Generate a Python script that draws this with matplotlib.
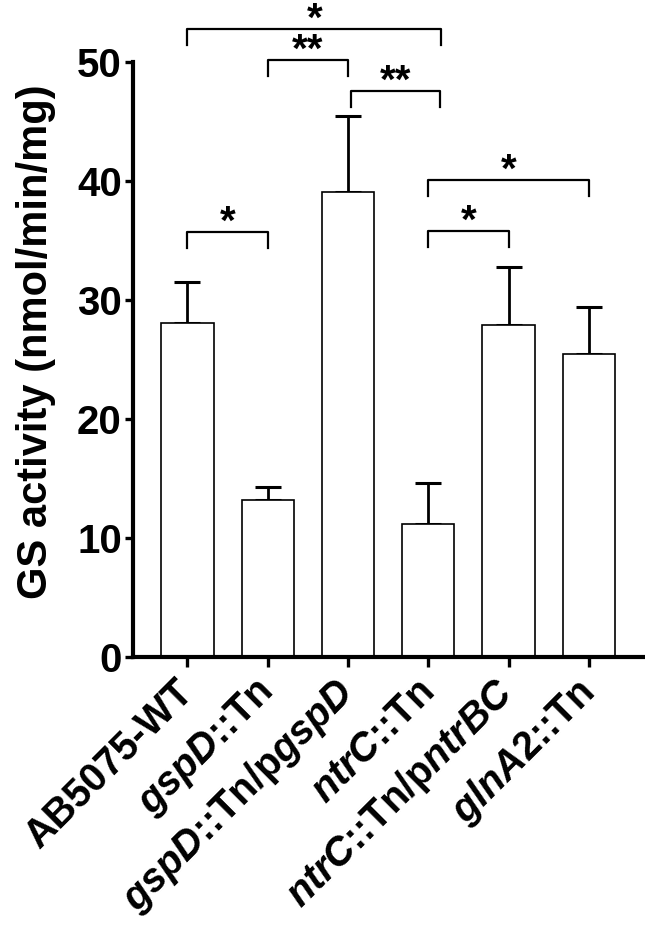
import numpy as np
import matplotlib
matplotlib.use("Agg")
import matplotlib.pyplot as plt

# podatki
skupine = ["AB5075-WT", r"$\mathit{gspD}$::Tn", r"$\mathit{gspD}$::Tn/p$\mathit{gspD}$",
           r"$\mathit{ntrC}$::Tn", r"$\mathit{ntrC}$::Tn/p$\mathit{ntrBC}$", r"$\mathit{glnA2}$::Tn"]
aktivnost = [28.1, 13.2, 39.1, 11.2, 27.9, 25.5]
napaka = [3.4, 1.1, 6.4, 3.4, 4.9, 3.9]

# oznake statisticne znacilnosti
pari_x1 = [0, 0, 1, 2.04, 3, 3]
pari_x2 = [1, 3.16, 2, 3.15, 4, 5]
pari_y = [35.7, 52.8, 50.2, 47.6, 35.8, 40.1]
pari_txt = ["*", "*", "**", "**", "*", "*"]

plt.rcParams['font.family'] = ['Liberation Sans', 'DejaVu Sans']
plt.rcParams['font.weight'] = 'bold'
plt.rcParams['mathtext.fontset'] = 'custom'
plt.rcParams['mathtext.rm'] = 'Liberation Sans:bold'
plt.rcParams['mathtext.it'] = 'Liberation Sans:italic:bold'
plt.rcParams['mathtext.bf'] = 'Liberation Sans:bold'

fig = plt.figure(figsize=(6.45, 9.27), dpi=100)
ax = fig.add_axes([0.206, 0.291, 0.794, 0.642])

x = np.arange(len(skupine))
ax.bar(x, aktivnost, width=0.65, color="white", edgecolor="black", linewidth=1.2, zorder=2)
ax.errorbar(x, aktivnost, yerr=[np.zeros(len(x)), napaka], fmt="none", ecolor="black",
            elinewidth=2, capsize=9.4, capthick=2.2, zorder=1)

ax.set_xlim(-0.68, 5.70)
ax.set_ylim(0, 50)
ax.set_yticks([0, 10, 20, 30, 40, 50])
ax.set_xticks(x)
ax.set_xticklabels(skupine, rotation=45, ha="right", va="center", rotation_mode="anchor", fontsize=28.5)
ax.tick_params(axis="y", labelsize=29, width=2.4, length=6, pad=2)
ax.tick_params(axis="x", width=2.4, length=7, pad=14)
for lab in ax.get_yticklabels():
    lab.set_fontweight("bold")

for s in ["top", "right"]:
    ax.spines[s].set_visible(False)
for s in ["left", "bottom"]:
    ax.spines[s].set_linewidth(3)

ax.set_ylabel("GS activity (nmol/min/mg)", fontsize=30, fontweight="bold")
ax.yaxis.set_label_coords(-0.15, 0.53)

# oklepaji z zvezdicami
noga = 1.35
for x1, x2, y, t in zip(pari_x1, pari_x2, pari_y, pari_txt):
    ax.plot([x1, x1, x2, x2], [y - noga, y, y, y - noga], color="black", lw=1.6, clip_on=False)
    ax.text((x1 + x2) / 2, y - 0.15, t, ha="center", va="baseline", fontsize=29, fontweight="bold")

fig.savefig("out.png", dpi=100)
